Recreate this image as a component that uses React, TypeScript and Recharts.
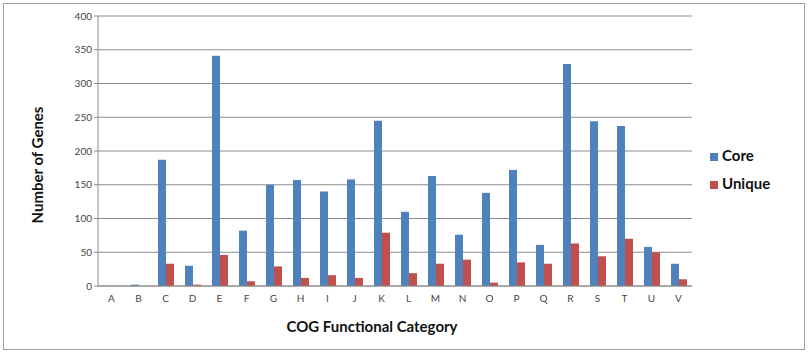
import { BarChart, Bar, XAxis, YAxis, CartesianGrid, Legend, Label } from "recharts";

const categories = ["A", "B", "C", "D", "E", "F", "G", "H", "I", "J", "K", "L", "M", "N", "O", "P", "Q", "R", "S", "T", "U", "V"];
const core = [0, 2, 187, 30, 341, 82, 150, 157, 140, 158, 245, 110, 163, 76, 138, 172, 61, 329, 244, 237, 58, 33];
const unique = [0, 0, 33, 2, 46, 7, 29, 12, 16, 12, 79, 19, 33, 39, 5, 35, 33, 63, 44, 70, 50, 10];
const yTicks = [0, 50, 100, 150, 200, 250, 300, 350, 400];
// tick marks fall on the boundaries between categories
const edgeTicks = categories.map((_, i) => i).concat(categories.length);

const rows = categories.map((c, i) => ({ cat: c, Core: core[i], Unique: unique[i] }));

const FONT = "Lato, 'Open Sans', sans-serif";
const titleStyle = { fontSize: 15, fontWeight: 700, fill: "#111", fontFamily: FONT };

// axis titles sit a little off the plot centre, as in the original layout
const XTitle = ({ viewBox }: any) => (
  <text x={viewBox.x + viewBox.width / 2 - 23} y={viewBox.y + 46} textAnchor="middle" style={titleStyle}>
    COG Functional Category
  </text>
);

const YTitle = ({ viewBox }: any) => {
  const x = 43;
  const y = viewBox.y + viewBox.height / 2 + 14;
  return (
    <text x={x} y={y} transform={`rotate(-90 ${x} ${y})`} textAnchor="middle" style={titleStyle}>
      Number of Genes
    </text>
  );
};

export default function App() {
  return (
    <div style={{ position: "absolute", left: 0, top: 0, width: 810, height: 353, background: "#fff", fontFamily: FONT }}>
      <div
        style={{
          position: "absolute",
          left: 3,
          top: 3,
          width: 800,
          height: 345,
          border: "1px solid #a0a0a0",
        }}
      />
      <BarChart
        width={810}
        height={353}
        data={rows}
        margin={{ top: 16, right: 118, bottom: 0, left: 0 }}
        barGap={0}
        barSize={8}
      >
        <CartesianGrid vertical={false} stroke="#8c8c8c" strokeWidth={1} />
        <XAxis
          xAxisId="edges"
          type="number"
          domain={[0, categories.length]}
          ticks={edgeTicks}
          interval={0}
          height={0}
          axisLine={false}
          stroke="#8c8c8c"
          tickSize={4}
          tick={() => <g />}
        />
        <XAxis
          dataKey="cat"
          height={67}
          stroke="#8c8c8c"
          tickLine={false}
          tick={{ fontSize: 10, fill: "#444", fontFamily: FONT }}
          tickMargin={3}
        >
          <Label content={<XTitle />} />
        </XAxis>
        <YAxis
          width={98}
          domain={[0, 400]}
          ticks={yTicks}
          interval={0}
          stroke="#8c8c8c"
          tickSize={4}
          tick={{ fontSize: 10, fill: "#444", fontFamily: FONT }}
        >
          <Label content={<YTitle />} />
        </YAxis>
        <Legend
          layout="vertical"
          align="center"
          verticalAlign="middle"
          iconType="square"
          iconSize={8}
          wrapperStyle={{ top: 141, left: 710, width: 90, fontSize: 15, fontWeight: 700, lineHeight: "28px" }}
          formatter={(v) => <span style={{ color: "#111" }}>{v}</span>}
        />
        <Bar dataKey="Core" fill="#4f81bd" isAnimationActive={false} />
        <Bar dataKey="Unique" fill="#c0504d" isAnimationActive={false} />
      </BarChart>
    </div>
  );
}
